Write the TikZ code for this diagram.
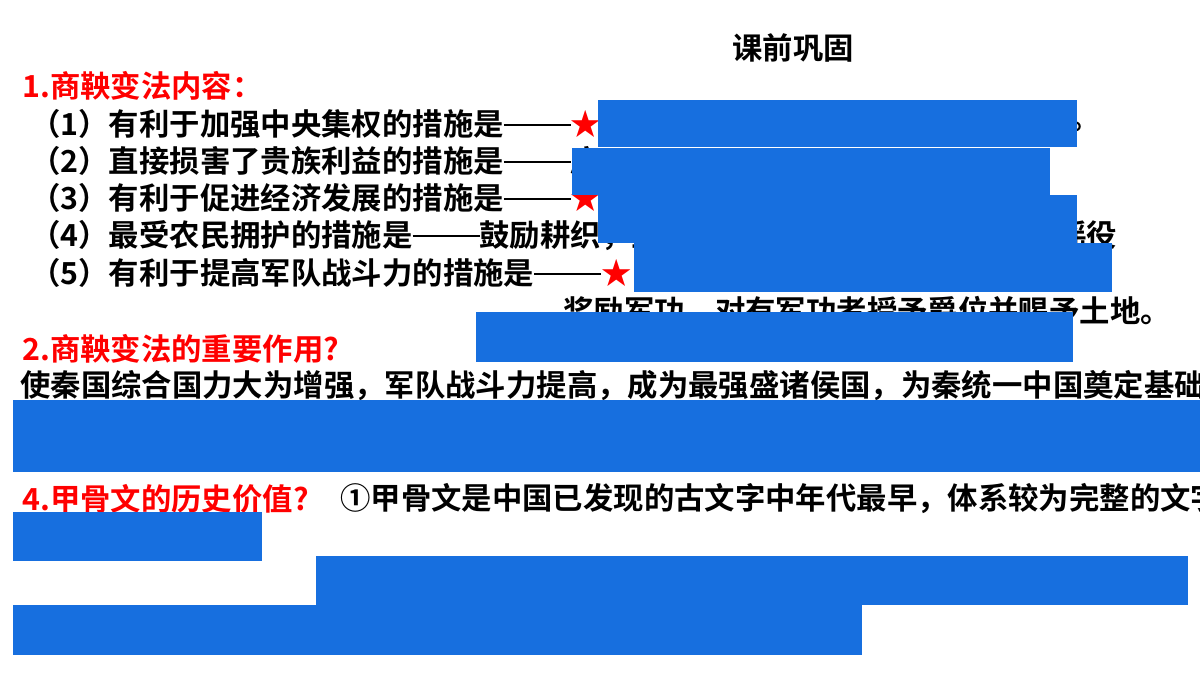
\documentclass[tikz,border=0pt]{standalone}
\usepackage{fontspec}
\newfontfamily\cjk{Noto Sans CJK SC Bold}
\definecolor{cover}{HTML}{176FDF}
\definecolor{myred}{HTML}{FF0000}
\newcommand{\dd}{\rule[0.32em]{2.2em}{0.07em}}
\begin{document}
\begin{tikzpicture}[x=0.025cm,y=-0.025cm,
  txt/.style={anchor=west,inner sep=0pt,font=\cjk\fontsize{21.6}{26}\selectfont},
  red/.style={txt,text=myred},
  box/.style={fill=cover,draw=none}]
\useasboundingbox (0,0) rectangle (1200,675);
\clip (0,0) rectangle (1200,675);
\fill[white] (0,0) rectangle (1200,675);
\node[txt,anchor=center] (t) at (793,48) {课前巩固};
\node[red] (h1) at (22,86) {1.商鞅变法内容：};
\node[txt] (l1) at (30,124) {（1）有利于加强中央集权的措施是\dd\textcolor{myred}{★}};
\node[txt] (e1) at (1070,127) {。};
\node[txt] (l2) at (30,161) {（2）直接损害了贵族利益的措施是\dd 废};
\node[txt] (l3) at (30,198) {（3）有利于促进经济发展的措施是\dd\textcolor{myred}{★}};
\node[txt] (l4) at (30,236) {（4）最受农民拥护的措施是\dd 鼓励耕织，生产粮食布帛多的人，可以免除徭役};
\node[txt] (l5) at (30,273) {（5）有利于提高军队战斗力的措施是\dd\textcolor{myred}{★}};
\node[txt] (l6) at (563,311) {奖励军功，对有军功者授予爵位并赐予土地。};
\node[red] (h2) at (22,349) {2.商鞅变法的重要作用?};
\node[txt] (l7) at (20,386) {使秦国综合国力大为增强，军队战斗力提高，成为最强盛诸侯国，为秦统一中国奠定基础};
\node[red] (h4) at (22,499) {4.甲骨文的历史价值?};
\node[txt] (l8) at (340,499) {①甲骨文是中国已发现的古文字中年代最早，体系较为完整的文字};
\fill[box] (598,100) rectangle (1077,147);
\fill[box] (572,148) rectangle (1050,195);
\fill[box] (598,195) rectangle (1077,243);
\fill[box] (634,243) rectangle (1112,292);
\fill[box] (476,312) rectangle (1073,362);
\fill[box] (13,400) rectangle (1200,472);
\fill[box] (13,512) rectangle (262,561);
\fill[box] (316,556) rectangle (1188,605);
\fill[box] (13,605) rectangle (862,655);
\end{tikzpicture}
\end{document}
